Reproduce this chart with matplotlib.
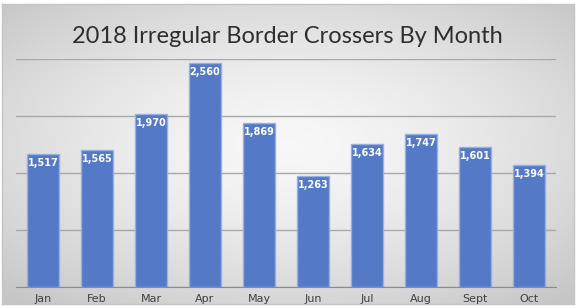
import numpy as np
import matplotlib.pyplot as plt

# =========================
# DATA
# =========================
months = ["Jan", "Feb", "Mar", "Apr", "May", "Jun", "Jul", "Aug", "Sept", "Oct"]
crossers = [1517, 1565, 1970, 2560, 1869, 1263, 1634, 1747, 1601, 1394]

bar_color = "#5479c6"
edge_color = "#98b0e0"

fig = plt.figure(figsize=(5.79, 3.08), dpi=100)
fig.patch.set_facecolor("white")

# =========================
# BACKGROUND (radial gray gradient)
# =========================
bg = fig.add_axes([2 / 579, 4 / 308, 572 / 579, 300 / 308])
yy, xx = np.mgrid[-1:1:300j, -1:1:572j]
r = np.sqrt((xx * 0.95) ** 2 + ((yy + 0.05) * 1.0) ** 2)
shade = 0.97 - 0.19 * np.clip(r / 1.35, 0, 1) ** 1.5
bg.imshow(np.dstack([shade] * 3), aspect="auto", extent=[0, 1, 0, 1])
bg.set_xticks([])
bg.set_yticks([])
for s in bg.spines.values():
    s.set_color("#c4c4c4")
    s.set_linewidth(1)

# =========================
# BAR CHART
# =========================
ax = fig.add_axes([16 / 579, 21 / 308, 540 / 579, 228 / 308])
ax.patch.set_alpha(0)
x = np.arange(len(months))
bars = ax.bar(x, crossers, width=0.585, color=bar_color, edgecolor=edge_color,
              linewidth=1, zorder=3)

ax.set_xlim(-0.5, len(months) - 0.5)
ax.set_ylim(0, 2600)
ax.set_yticks(np.arange(0, 2601, 650))
ax.yaxis.grid(True, color="#a8a8a8", linewidth=1, zorder=0)
ax.tick_params(axis="y", length=0, labelleft=False)
ax.set_xticks(x)
ax.set_xticklabels(months, fontsize=8, color="#404040")
ax.tick_params(axis="x", length=0, pad=5)
for side in ["top", "right", "left"]:
    ax.spines[side].set_visible(False)
ax.spines["bottom"].set_color("#8c8c8c")

for xi, v in zip(x, crossers):
    ax.annotate(f"{v:,}", (xi, v), xytext=(0, -3), textcoords="offset points",
                ha="center", va="top", color="white", fontsize=7,
                fontweight="bold", zorder=4)

fig.text(0.497, 0.882, "2018 Irregular Border Crossers By Month",
         ha="center", va="center", fontsize=17, color="#2e2e2e",
         family="Lato")

fig.savefig("out.png", dpi=100)
